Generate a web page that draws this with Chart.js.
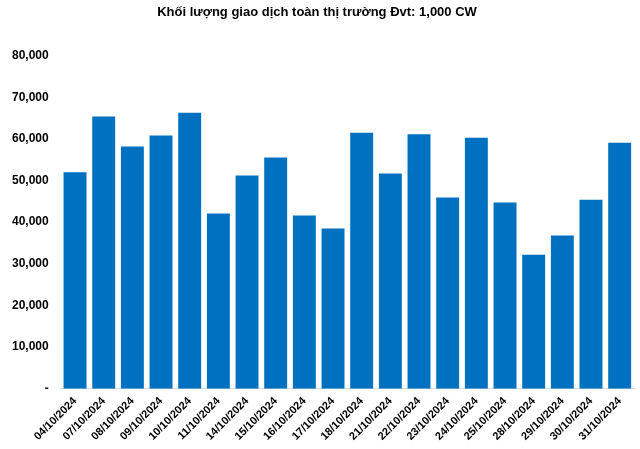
<!DOCTYPE html>
<html>
<head>
<meta charset="utf-8">
<script src="https://cdn.jsdelivr.net/npm/chart.js@4.4.0/dist/chart.umd.min.js"></script>
<style>
  html,body{margin:0;padding:0;background:#fff;}
  #wrap{width:640px;height:449px;}
</style>
</head>
<body>
<div id="wrap"><canvas id="chart" width="640" height="449"></canvas></div>
<script>
const TITLE = 'Khối lượng giao dịch toàn thị trường Đvt: 1,000 CW';
const DATES = ['04/10/2024','07/10/2024','08/10/2024','09/10/2024','10/10/2024','11/10/2024','14/10/2024','15/10/2024','16/10/2024','17/10/2024',
  '18/10/2024','21/10/2024','22/10/2024','23/10/2024','24/10/2024','25/10/2024','28/10/2024','29/10/2024','30/10/2024','31/10/2024'];
const VOLUME = [52000,65400,58200,60800,66300,42100,51200,55500,41600,38500,
  61500,51700,61100,45900,60300,44700,32200,36800,45400,59100];

const FONT = "'Liberation Sans', Arial, sans-serif";

new Chart(document.getElementById('chart').getContext('2d'), {
  type:'bar',
  data:{labels:DATES, datasets:[{data:VOLUME, backgroundColor:'#0070C0', barPercentage:0.8, categoryPercentage:1}]},
  options:{
    responsive:false,
    animation:false,
    layout:{padding:{left:0,right:6,top:0,bottom:0}},
    plugins:{
      legend:{display:false},
      tooltip:{enabled:false},
      title:{display:true, text:TITLE, color:'#000', font:{family:FONT,size:13,weight:'bold'}, padding:{top:5,bottom:35}}
    },
    scales:{
      x:{
        grid:{display:false, drawTicks:false},
        border:{color:'#d9d9d9'},
        ticks:{color:'#000', font:{family:FONT,size:11,weight:'bold'}, maxRotation:45, minRotation:45, autoSkip:false, padding:6}
      },
      y:{
        min:0, max:80000,
        grid:{display:false, drawTicks:false},
        border:{display:false},
        ticks:{stepSize:10000, color:'#000', padding:12, font:{family:FONT,size:12,weight:'bold'},
          callback:v=>v===0?'-':v.toLocaleString('en-US')}
      }
    }
  }
});
</script>
</body>
</html>
